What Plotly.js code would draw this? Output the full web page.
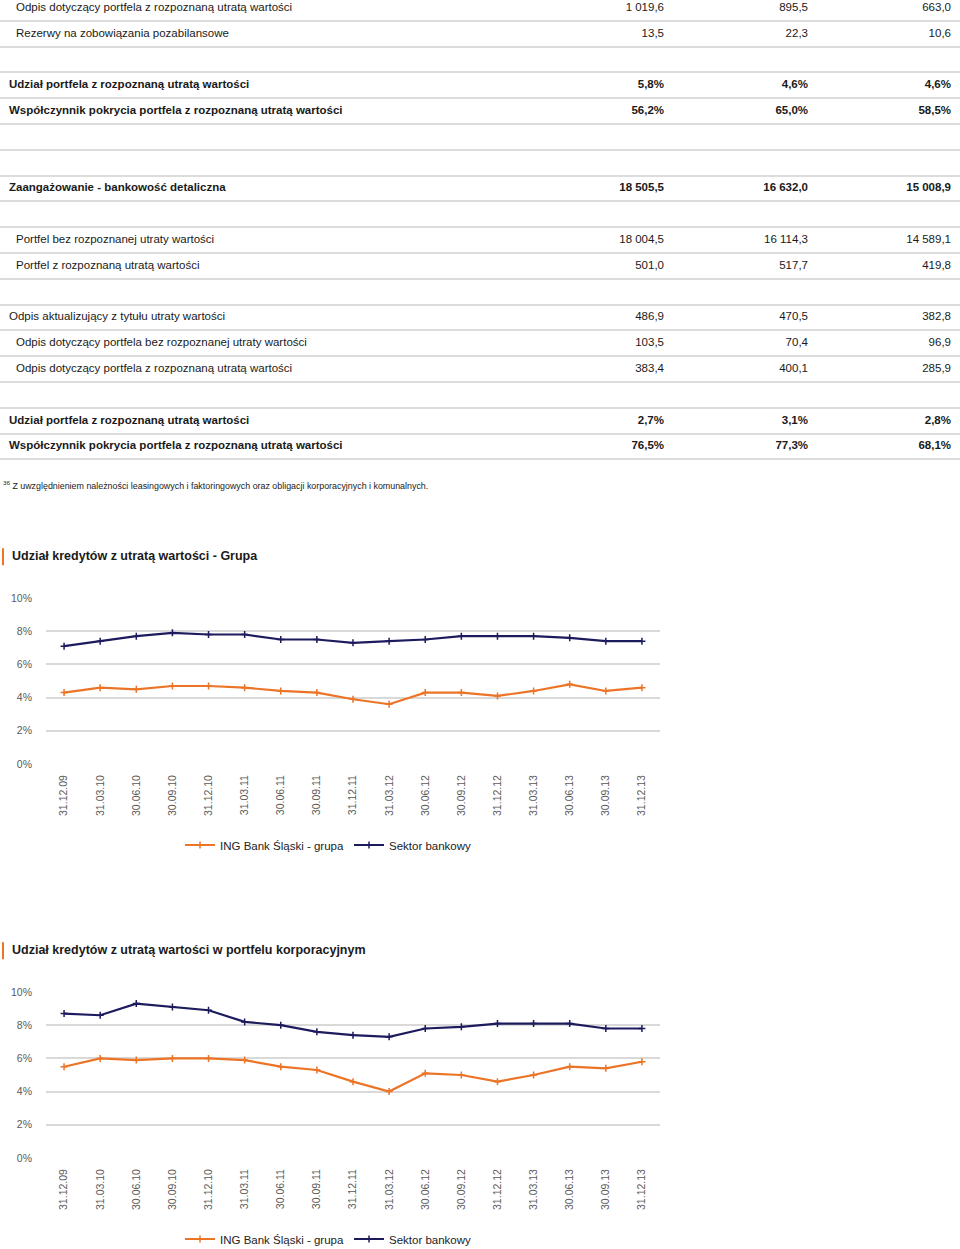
<!DOCTYPE html>
<html><head><meta charset="utf-8">
<script src="https://cdn.plot.ly/plotly-3.0.1.min.js"></script>
<style>
html,body{margin:0;padding:0;background:#fff;width:960px;height:1249px;overflow:hidden;position:relative}
.blk{position:absolute;left:0;width:960px}
</style></head><body>
<div id="tbl" class="blk" style="top:-5px;height:500px"></div>
<div id="c1" class="blk" style="top:540px;height:330px"></div>
<div id="c2" class="blk" style="top:934px;height:330px"></div>
<script>
// ---------- DATA ----------
const tableLabels = [
  'Odpis dotyczący portfela z rozpoznaną utratą wartości',
  'Rezerwy na zobowiązania pozabilansowe',
  '',
  'Udział portfela z rozpoznaną utratą wartości',
  'Współczynnik pokrycia portfela z rozpoznaną utratą wartości',
  '',
  '',
  'Zaangażowanie - bankowość detaliczna',
  '',
  'Portfel bez rozpoznanej utraty wartości',
  'Portfel z rozpoznaną utratą wartości',
  '',
  'Odpis aktualizujący z tytułu utraty wartości',
  'Odpis dotyczący portfela bez rozpoznanej utraty wartości',
  'Odpis dotyczący portfela z rozpoznaną utratą wartości',
  '',
  'Udział portfela z rozpoznaną utratą wartości',
  'Współczynnik pokrycia portfela z rozpoznaną utratą wartości'
];
const tableCol1 = ['1 019,6','13,5','','5,8%','56,2%','','','18 505,5','','18 004,5','501,0','','486,9','103,5','383,4','','2,7%','76,5%'];
const tableCol2 = ['895,5','22,3','','4,6%','65,0%','','','16 632,0','','16 114,3','517,7','','470,5','70,4','400,1','','3,1%','77,3%'];
const tableCol3 = ['663,0','10,6','','4,6%','58,5%','','','15 008,9','','14 589,1','419,8','','382,8','96,9','285,9','','2,8%','68,1%'];
const rowBold   = [0,0,0,1,1,0,0,1,0,0,0,0,0,0,0,0,1,1];
const rowIndent = [1,1,0,0,0,0,0,0,0,1,1,0,0,1,1,0,0,0];
const footnoteMark = '36';
const footnoteText = 'Z uwzględnieniem należności leasingowych i faktoringowych oraz obligacji korporacyjnych i komunalnych.';

const dates = ['31.12.09','31.03.10','30.06.10','30.09.10','31.12.10','31.03.11','30.06.11','30.09.11','31.12.11','31.03.12','30.06.12','30.09.12','31.12.12','31.03.13','30.06.13','30.09.13','31.12.13'];
const seriesNames = ['ING Bank Śląski - grupa','Sektor bankowy'];
const chart1Title = 'Udział kredytów z utratą wartości - Grupa';
const ingGroup    = [4.3,4.6,4.5,4.7,4.7,4.6,4.4,4.3,3.9,3.6,4.3,4.3,4.1,4.4,4.8,4.4,4.6];
const sectorGroup = [7.1,7.4,7.7,7.9,7.8,7.8,7.5,7.5,7.3,7.4,7.5,7.7,7.7,7.7,7.6,7.4,7.4];
const chart2Title = 'Udział kredytów z utratą wartości w portfelu korporacyjnym';
const ingCorp     = [5.5,6.0,5.9,6.0,6.0,5.9,5.5,5.3,4.6,4.0,5.1,5.0,4.6,5.0,5.5,5.4,5.8];
const sectorCorp  = [8.7,8.6,9.3,9.1,8.9,8.2,8.0,7.6,7.4,7.3,7.8,7.9,8.1,8.1,8.1,7.8,7.8];

// ---------- STYLE ----------
const FONT = '"Liberation Sans", Arial, Helvetica, sans-serif';
const ORANGE = '#EB7427';
const NAVY = '#1C1B5E';
const CFG = {staticPlot:true, displayModeBar:false};

// ---------- TABLE ----------
(function(){
  const W = 960, H = 500, rowH = 25.8;
  const n = tableLabels.length;
  const fmt = (s, i) => rowBold[i] ? '<b>' + s + '</b>' : s;
  const txtFont = {family: FONT, size: 11.5, color: '#1a1a1a'};
  // build a text trace from a column, skipping empty cells
  const textTrace = (col, xOf, pos) => {
    const xs = [], ys = [], ts = [];
    col.forEach((s, i) => { if (s) { xs.push(xOf(i)); ys.push(i); ts.push(fmt(s, i)); } });
    return {type:'scatter', mode:'text', x: xs, y: ys, text: ts, textposition: pos,
            textfont: txtFont, hoverinfo:'skip', showlegend:false, cliponaxis:false};
  };
  const traces = [textTrace(tableLabels, i => rowIndent[i] ? 16 : 9, 'middle right')];
  const colRight = [664, 808, 951];
  [tableCol1, tableCol2, tableCol3].forEach((col, c) => traces.push(textTrace(col, () => colRight[c], 'middle left')));
  const bounds = [];
  for (let i = 0; i <= n; i++) bounds.push(i - 0.5);
  const layout = {
    width: W, height: H, margin:{l:0,r:0,t:0,b:0},
    paper_bgcolor:'#fff', plot_bgcolor:'#fff', showlegend:false,
    font:{family: FONT},
    xaxis:{range:[0, W], visible:false, fixedrange:true},
    yaxis:{range:[-0.5 + H / rowH, -0.5], tickvals: bounds, showticklabels:false, ticks:'',
           showgrid:true, gridcolor:'#dcdcdc', gridwidth:2, zeroline:false, showline:false, fixedrange:true},
    annotations:[{
      xref:'paper', yref:'paper', x: 1/W, y: 1 - 490/H, xanchor:'left', yanchor:'middle',
      text:'<sup>' + footnoteMark + '</sup> ' + footnoteText, showarrow:false,
      font:{family: FONT, size: 8.9, color:'#1a1a1a'}
    }]
  };
  Plotly.newPlot('tbl', traces, layout, CFG);
})();

// ---------- CHARTS ----------
function makeChart(id, title, ingVals, sectorVals) {
  const W = 960, H = 330, ml = 46, mr = 300, mt = 58, mb = 105;
  const pw = W - ml - mr, ph = H - mt - mb;
  const px2x = p => (p - ml) / pw;
  const py2y = p => (H - mb - p) / ph;
  const mk = (name, vals, color) => ({
    type:'scatter', mode:'lines+markers', name: name, x: dates, y: vals,
    line:{color: color, width: 2.2},
    marker:{symbol:'cross-thin', size:5, color: color, line:{color: color, width:1.5}},
    hoverinfo:'skip'
  });
  const layout = {
    width: W, height: H, margin:{l:ml, r:mr, t:mt, b:mb},
    paper_bgcolor:'#fff', plot_bgcolor:'#fff',
    font:{family: FONT, color:'#222'},
    title:{text:'<b>' + title + '</b>', x: 12 / W, xref:'container', xanchor:'left',
           y: 1 - 16 / H, yref:'container', yanchor:'middle', font:{family: FONT, size:12.5, color:'#1a1a1a'}},
    xaxis:{type:'category', range:[-0.5, dates.length - 0.5], tickangle:-90,
           tickfont:{family: FONT, size:10.5, color:'#5a5a5a'},
           showgrid:false, zeroline:false, showline:false, ticks:'', ticklabelstandoff:8, fixedrange:true},
    yaxis:{range:[0, 10], dtick:2, ticksuffix:'%', tickfont:{family: FONT, size:10.5, color:'#5a5a5a'},
           gridcolor:'#d9d9d9', gridwidth:2, zeroline:false, showline:false, ticks:'', ticklabelstandoff:13, fixedrange:true},
    legend:{orientation:'h', x: px2x(180), xanchor:'left', y: py2y(305), yanchor:'middle',
            entrywidth:124, entrywidthmode:'pixels',
            font:{family: FONT, size:11.5, color:'#222'}, bgcolor:'rgba(0,0,0,0)'},
    shapes:[{type:'line', xref:'paper', yref:'paper', x0: px2x(3), x1: px2x(3), y0: py2y(25), y1: py2y(8),
             line:{color: ORANGE, width:2}}]
  };
  Plotly.newPlot(id, [mk(seriesNames[0], ingVals, ORANGE), mk(seriesNames[1], sectorVals, NAVY)], layout, CFG);
}
makeChart('c1', chart1Title, ingGroup, sectorGroup);
makeChart('c2', chart2Title, ingCorp, sectorCorp);
</script>
</body></html>
